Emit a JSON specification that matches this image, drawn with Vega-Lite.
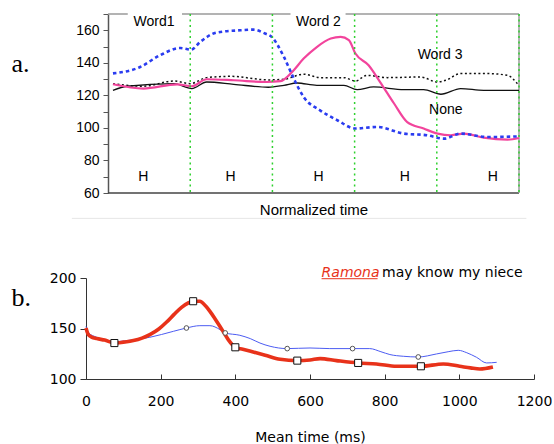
{
  "$schema": "https://vega.github.io/schema/vega-lite/v6.json",
  "padding": {"left": 11, "top": 12, "right": 0, "bottom": 2},
  "background": "white",
  "config": {"view": {"stroke": null}, "font": "Liberation Sans", "axis": {"grid": false, "labelOverlap": false}},
  "spacing": 46,
  "datasets": {
    "a": [
      {"s": "w1", "t": 0.06, "v": 133.5}, {"s": "w1", "t": 0.39, "v": 137.4}, {"s": "w1", "t": 0.63, "v": 144.6}, {"s": "w1", "t": 0.88, "v": 149.1}, {"s": "w1", "t": 1.01, "v": 148.1}, {"s": "w1", "t": 1.12, "v": 152.8}, {"s": "w1", "t": 1.32, "v": 158.6}, {"s": "w1", "t": 1.61, "v": 160}, {"s": "w1", "t": 1.77, "v": 160.4}, {"s": "w1", "t": 1.91, "v": 158}, {"s": "w1", "t": 1.99, "v": 156}, {"s": "w1", "t": 2.14, "v": 143.6}, {"s": "w1", "t": 2.26, "v": 130.3}, {"s": "w1", "t": 2.38, "v": 119}, {"s": "w1", "t": 2.58, "v": 110.8}, {"s": "w1", "t": 2.79, "v": 104.7}, {"s": "w1", "t": 3.01, "v": 99.6}, {"s": "w1", "t": 3.27, "v": 100.6}, {"s": "w1", "t": 3.6, "v": 96.5}, {"s": "w1", "t": 3.88, "v": 95.5}, {"s": "w1", "t": 4.09, "v": 93.4}, {"s": "w1", "t": 4.29, "v": 96.5}, {"s": "w1", "t": 4.61, "v": 94.4}, {"s": "w1", "t": 5.0, "v": 94.8},
      {"s": "w2", "t": 0.06, "v": 126.8}, {"s": "w2", "t": 0.43, "v": 124.2}, {"s": "w2", "t": 0.84, "v": 126.8}, {"s": "w2", "t": 1.02, "v": 125.6}, {"s": "w2", "t": 1.2, "v": 129.9}, {"s": "w2", "t": 1.53, "v": 129.3}, {"s": "w2", "t": 1.93, "v": 128.2}, {"s": "w2", "t": 2.1, "v": 128.7}, {"s": "w2", "t": 2.24, "v": 134.4}, {"s": "w2", "t": 2.38, "v": 142.6}, {"s": "w2", "t": 2.54, "v": 149.7}, {"s": "w2", "t": 2.71, "v": 154.9}, {"s": "w2", "t": 2.83, "v": 155.9}, {"s": "w2", "t": 2.93, "v": 153.9}, {"s": "w2", "t": 3.01, "v": 145.7}, {"s": "w2", "t": 3.17, "v": 138.5}, {"s": "w2", "t": 3.31, "v": 128.2}, {"s": "w2", "t": 3.48, "v": 115}, {"s": "w2", "t": 3.64, "v": 103.6}, {"s": "w2", "t": 3.84, "v": 99.6}, {"s": "w2", "t": 4.01, "v": 96.5}, {"s": "w2", "t": 4.17, "v": 95.5}, {"s": "w2", "t": 4.33, "v": 96.5}, {"s": "w2", "t": 4.57, "v": 94}, {"s": "w2", "t": 4.86, "v": 92.8}, {"s": "w2", "t": 5.0, "v": 93.8},
      {"s": "w3", "t": 0.06, "v": 127.2}, {"s": "w3", "t": 0.43, "v": 125.6}, {"s": "w3", "t": 0.8, "v": 128.8}, {"s": "w3", "t": 1.0, "v": 127.2}, {"s": "w3", "t": 1.2, "v": 130.9}, {"s": "w3", "t": 1.49, "v": 131.7}, {"s": "w3", "t": 1.95, "v": 129.5}, {"s": "w3", "t": 2.14, "v": 129.9}, {"s": "w3", "t": 2.38, "v": 133}, {"s": "w3", "t": 2.58, "v": 130.9}, {"s": "w3", "t": 2.87, "v": 130.9}, {"s": "w3", "t": 3.01, "v": 128.8}, {"s": "w3", "t": 3.15, "v": 132.3}, {"s": "w3", "t": 3.4, "v": 130.9}, {"s": "w3", "t": 3.8, "v": 131.3}, {"s": "w3", "t": 4.01, "v": 128.2}, {"s": "w3", "t": 4.11, "v": 129.3}, {"s": "w3", "t": 4.29, "v": 133.4}, {"s": "w3", "t": 4.61, "v": 133.4}, {"s": "w3", "t": 4.86, "v": 132.3}, {"s": "w3", "t": 4.98, "v": 127.2},
      {"s": "none", "t": 0.06, "v": 123.1}, {"s": "none", "t": 0.23, "v": 125.6}, {"s": "none", "t": 0.8, "v": 127.2}, {"s": "none", "t": 1.02, "v": 124.2}, {"s": "none", "t": 1.2, "v": 128.2}, {"s": "none", "t": 1.53, "v": 126.8}, {"s": "none", "t": 1.95, "v": 125}, {"s": "none", "t": 2.14, "v": 126.2}, {"s": "none", "t": 2.3, "v": 127.6}, {"s": "none", "t": 2.54, "v": 126.2}, {"s": "none", "t": 2.87, "v": 126.2}, {"s": "none", "t": 3.03, "v": 123.5}, {"s": "none", "t": 3.23, "v": 125.2}, {"s": "none", "t": 3.6, "v": 123.5}, {"s": "none", "t": 3.84, "v": 123.5}, {"s": "none", "t": 4.05, "v": 120.7}, {"s": "none", "t": 4.29, "v": 124.2}, {"s": "none", "t": 4.57, "v": 123.1}, {"s": "none", "t": 5.0, "v": 123.1}
    ],
    "alabels": [
      {"t": 0.43, "v": 69.6, "label": "H"}, {"t": 1.49, "v": 69.6, "label": "H"}, {"t": 2.56, "v": 69.6, "label": "H"}, {"t": 3.61, "v": 69.6, "label": "H"}, {"t": 4.68, "v": 69.6, "label": "H"},
      {"t": 0.56, "v": 164.9, "label": "Word1"}, {"t": 2.56, "v": 165.3, "label": "Word 2"}, {"t": 4.04, "v": 144.6, "label": "Word 3"}, {"t": 4.11, "v": 110.8, "label": "None"}
    ],
    "gaps": [
      {"t": 0.24, "t2": 0.9, "v": 166, "v2": 171},
      {"t": 2.22, "t2": 2.89, "v": 166, "v2": 171}
    ],
    "topborder": [{"t": 0, "t2": 5, "v": 170}],
    "bottomborder": [{"t": 0, "t2": 5, "v": 60}],
    "vborder": [{"t": 5, "v": 60, "v2": 170}],
    "frame": [{"t": -0.44, "t2": 5.09, "v": 44.4}],
    "b": [
      {"s": "red", "ms": 0, "v": 150.5}, {"s": "red", "ms": 6, "v": 144}, {"s": "red", "ms": 15, "v": 141.5}, {"s": "red", "ms": 29, "v": 140}, {"s": "red", "ms": 50, "v": 138.5}, {"s": "red", "ms": 76, "v": 135.6}, {"s": "red", "ms": 100, "v": 136.5}, {"s": "red", "ms": 127, "v": 138}, {"s": "red", "ms": 150, "v": 140.5}, {"s": "red", "ms": 171, "v": 144}, {"s": "red", "ms": 195, "v": 149.5}, {"s": "red", "ms": 216, "v": 156.4}, {"s": "red", "ms": 236, "v": 164}, {"s": "red", "ms": 256, "v": 171}, {"s": "red", "ms": 275, "v": 175.5}, {"s": "red", "ms": 287, "v": 177}, {"s": "red", "ms": 305, "v": 177}, {"s": "red", "ms": 320, "v": 172.5}, {"s": "red", "ms": 332, "v": 167}, {"s": "red", "ms": 345, "v": 160}, {"s": "red", "ms": 359, "v": 152}, {"s": "red", "ms": 370, "v": 145.5}, {"s": "red", "ms": 381, "v": 139}, {"s": "red", "ms": 392, "v": 134}, {"s": "red", "ms": 400, "v": 131.4}, {"s": "red", "ms": 420, "v": 129.5}, {"s": "red", "ms": 448, "v": 126.7}, {"s": "red", "ms": 480, "v": 123.5}, {"s": "red", "ms": 520, "v": 119.5}, {"s": "red", "ms": 566, "v": 118.2}, {"s": "red", "ms": 600, "v": 118.8}, {"s": "red", "ms": 627, "v": 120.2}, {"s": "red", "ms": 671, "v": 118.2}, {"s": "red", "ms": 729, "v": 115.9}, {"s": "red", "ms": 778, "v": 114.9}, {"s": "red", "ms": 832, "v": 112.6}, {"s": "red", "ms": 897, "v": 112.6}, {"s": "red", "ms": 957, "v": 114.9}, {"s": "red", "ms": 1001, "v": 112.6}, {"s": "red", "ms": 1030, "v": 111}, {"s": "red", "ms": 1055, "v": 109.9}, {"s": "red", "ms": 1090, "v": 111.9},
      {"s": "blue", "ms": 0, "v": 152}, {"s": "blue", "ms": 6, "v": 146}, {"s": "blue", "ms": 29, "v": 141.3}, {"s": "blue", "ms": 76, "v": 137}, {"s": "blue", "ms": 120, "v": 138.5}, {"s": "blue", "ms": 171, "v": 141.3}, {"s": "blue", "ms": 234, "v": 147.2}, {"s": "blue", "ms": 269, "v": 150.5}, {"s": "blue", "ms": 305, "v": 152.8}, {"s": "blue", "ms": 332, "v": 152.8}, {"s": "blue", "ms": 359, "v": 148.9}, {"s": "blue", "ms": 373, "v": 145.6}, {"s": "blue", "ms": 412, "v": 143.3}, {"s": "blue", "ms": 440, "v": 140}, {"s": "blue", "ms": 466, "v": 135.6}, {"s": "blue", "ms": 493, "v": 132.4}, {"s": "blue", "ms": 539, "v": 130.1}, {"s": "blue", "ms": 600, "v": 130.7}, {"s": "blue", "ms": 653, "v": 130.1}, {"s": "blue", "ms": 714, "v": 130.1}, {"s": "blue", "ms": 760, "v": 130.1}, {"s": "blue", "ms": 790, "v": 127}, {"s": "blue", "ms": 814, "v": 124.2}, {"s": "blue", "ms": 850, "v": 122.5}, {"s": "blue", "ms": 890, "v": 121.8}, {"s": "blue", "ms": 939, "v": 124.8}, {"s": "blue", "ms": 970, "v": 127}, {"s": "blue", "ms": 997, "v": 128.4}, {"s": "blue", "ms": 1020, "v": 126}, {"s": "blue", "ms": 1046, "v": 121.5}, {"s": "blue", "ms": 1073, "v": 115.9}, {"s": "blue", "ms": 1100, "v": 116.5}
    ],
    "squares": [{"ms": 76, "v": 135.6}, {"ms": 287, "v": 177}, {"ms": 400, "v": 131.4}, {"ms": 566, "v": 118.2}, {"ms": 729, "v": 115.9}, {"ms": 897, "v": 112.6}],
    "circles": [{"ms": 269, "v": 150.5}, {"ms": 373, "v": 145.6}, {"ms": 539, "v": 130.1}, {"ms": 714, "v": 130.1}, {"ms": 890, "v": 121.8}],
    "name": [{"ms": 631, "v": 201, "label": "Ramona"}],
    "rest": [{"ms": 793, "v": 201, "label": "may know my niece"}],
    "underline": [{"ms": 631, "ms2": 781, "v": 199.3}]
  },
  "vconcat": [
    {
      "width": 433,
      "height": 179,
      "resolve": {"axis": {"y": "independent"}},
      "layer": [
        {
          "data": {"name": "topborder"},
          "mark": {"type": "rule", "strokeWidth": 1.5, "color": "#9a9a9a"},
          "encoding": {
            "x": {"field": "t", "type": "quantitative", "scale": {"domain": [-0.2681, 5], "nice": false, "zero": false},
              "axis": {"title": "Normalized time", "labels": false, "ticks": false, "domain": false, "titleFont": "Liberation Sans", "titleFontSize": 15, "titleFontWeight": "normal", "titleColor": "#000", "titlePadding": 9, "titleX": 227.5}},
            "x2": {"field": "t2"},
            "y": {"field": "v", "type": "quantitative", "scale": {"domain": [60, 170], "nice": false, "zero": false},
              "axis": {"orient": "left", "offset": -22, "values": [60, 80, 100, 120, 140, 160], "labelOverlap": false, "tickSize": 5, "tickColor": "#555", "domainColor": "#555", "domainWidth": 1.5, "labelFont": "Liberation Sans", "labelFontSize": 14, "labelColor": "#000", "labelPadding": 4,
                "title": "a.", "titleAngle": 0, "titleFont": "Liberation Serif", "titleFontSize": 26, "titleFontWeight": "normal", "titleColor": "#000", "titleAlign": "left", "titleBaseline": "alphabetic", "titleX": -97, "titleY": 57}}
          }
        },
        {
          "data": {"name": "bottomborder"},
          "mark": {"type": "rule", "strokeWidth": 1.5, "color": "#444"},
          "encoding": {"x": {"field": "t", "type": "quantitative"}, "x2": {"field": "t2"},
            "y": {"field": "v", "type": "quantitative", "axis": {"orient": "left", "offset": -22, "values": [70, 90, 110, 130, 150, 170], "labels": false, "domain": false, "tickSize": 5, "tickColor": "#555", "title": null}}}
        },
        {
          "data": {"name": "vborder"},
          "mark": {"type": "rule", "strokeWidth": 1.5, "color": "#9a9a9a"},
          "encoding": {"x": {"field": "t", "type": "quantitative"}, "y": {"field": "v", "type": "quantitative", "axis": null}, "y2": {"field": "v2"}}
        },
        {
          "data": {"name": "a"},
          "transform": [{"filter": "datum.s == 'none'"}],
          "mark": {"type": "line", "color": "#111", "strokeWidth": 1.3, "interpolate": "monotone"},
          "encoding": {"x": {"field": "t", "type": "quantitative"}, "y": {"field": "v", "type": "quantitative", "axis": null}}
        },
        {
          "data": {"name": "a"},
          "transform": [{"filter": "datum.s == 'w3'"}],
          "mark": {"type": "line", "color": "#111", "strokeWidth": 1.5, "strokeDash": [2, 2.5], "interpolate": "monotone"},
          "encoding": {"x": {"field": "t", "type": "quantitative"}, "y": {"field": "v", "type": "quantitative", "axis": null}}
        },
        {
          "data": {"name": "a"},
          "transform": [{"filter": "datum.s == 'w2'"}],
          "mark": {"type": "line", "color": "#f2449c", "strokeWidth": 2.2, "interpolate": "monotone"},
          "encoding": {"x": {"field": "t", "type": "quantitative"}, "y": {"field": "v", "type": "quantitative", "axis": null}}
        },
        {
          "data": {"name": "a"},
          "transform": [{"filter": "datum.s == 'w1'"}],
          "mark": {"type": "line", "color": "#2a3cf0", "strokeWidth": 2.6, "strokeDash": [3.5, 3], "interpolate": "monotone"},
          "encoding": {"x": {"field": "t", "type": "quantitative"}, "y": {"field": "v", "type": "quantitative", "axis": null}}
        },
        {
          "data": {"values": [{"t": 1}, {"t": 2}, {"t": 3}, {"t": 4}, {"t": 5}]},
          "mark": {"type": "rule", "color": "#2fd12f", "strokeWidth": 1.5, "strokeDash": [2, 3.5]},
          "encoding": {"x": {"field": "t", "type": "quantitative"}}
        },
        {
          "data": {"name": "gaps"},
          "mark": {"type": "rect", "color": "white"},
          "encoding": {"x": {"field": "t", "type": "quantitative"}, "x2": {"field": "t2"}, "y": {"field": "v", "type": "quantitative", "axis": null}, "y2": {"field": "v2"}}
        },
        {
          "data": {"name": "frame"},
          "mark": {"type": "rule", "color": "#e6e6e6", "strokeWidth": 1},
          "encoding": {"x": {"field": "t", "type": "quantitative"}, "x2": {"field": "t2"}, "y": {"field": "v", "type": "quantitative", "axis": null}}
        },
        {
          "data": {"name": "alabels"},
          "mark": {"type": "text", "font": "Liberation Sans", "fontSize": 14, "color": "#000", "baseline": "middle", "align": "center"},
          "encoding": {"x": {"field": "t", "type": "quantitative"}, "y": {"field": "v", "type": "quantitative", "axis": null}, "text": {"field": "label"}}
        }
      ]
    },
    {
      "width": 448,
      "height": 101,
      "layer": [
        {
          "data": {"name": "b"},
          "transform": [{"filter": "datum.s == 'blue'"}],
          "mark": {"type": "line", "color": "#4c5cf2", "strokeWidth": 1, "interpolate": "monotone"},
          "encoding": {
            "x": {"field": "ms", "type": "quantitative", "scale": {"domain": [0, 1200], "nice": false},
              "axis": {"values": [0, 100, 200, 300, 400, 500, 600, 700, 800, 900, 1000, 1100, 1200], "format": "d", "labelOverlap": false, "labelExpr": "datum.value % 200 == 0 ? datum.label : ''", "tickSize": -5, "tickColor": "#333", "domainColor": "#333", "labelFont": "DejaVu Sans", "labelFontSize": 14, "labelColor": "#000", "labelPadding": 20.5, "labelFlush": false,
                "title": "Mean time (ms)", "titleFont": "DejaVu Sans", "titleFontSize": 14, "titleFontWeight": "normal", "titleColor": "#000", "titlePadding": 22}},
            "y": {"field": "v", "type": "quantitative", "scale": {"domain": [100, 200], "nice": false, "zero": false},
              "axis": {"values": [100, 125, 150, 175, 200], "labelOverlap": false, "labelExpr": "datum.value % 50 == 0 ? datum.label : ''", "tickSize": 6, "tickColor": "#333", "domainColor": "#333", "labelFont": "DejaVu Sans", "labelFontSize": 14, "labelColor": "#000", "labelPadding": 4,
                "title": "b.", "titleAngle": 0, "titleFont": "Liberation Serif", "titleFontSize": 26, "titleFontWeight": "normal", "titleColor": "#000", "titleAlign": "left", "titleBaseline": "alphabetic", "titleX": -75, "titleY": 27}}
          }
        },
        {
          "data": {"name": "b"},
          "transform": [{"filter": "datum.s == 'red'"}],
          "mark": {"type": "line", "color": "#e8321a", "strokeWidth": 3.6, "interpolate": "monotone"},
          "encoding": {"x": {"field": "ms", "type": "quantitative"}, "y": {"field": "v", "type": "quantitative"}}
        },
        {
          "data": {"name": "circles"},
          "mark": {"type": "point", "shape": "circle", "size": 22, "filled": true, "fill": "white", "stroke": "#555", "strokeWidth": 1, "opacity": 1},
          "encoding": {"x": {"field": "ms", "type": "quantitative"}, "y": {"field": "v", "type": "quantitative"}}
        },
        {
          "data": {"name": "squares"},
          "mark": {"type": "point", "shape": "square", "size": 50, "filled": true, "fill": "white", "stroke": "#111", "strokeWidth": 1, "opacity": 1},
          "encoding": {"x": {"field": "ms", "type": "quantitative"}, "y": {"field": "v", "type": "quantitative"}}
        },
        {
          "data": {"name": "name"},
          "mark": {"type": "text", "font": "DejaVu Sans", "fontSize": 14, "fontStyle": "italic", "align": "left", "baseline": "alphabetic", "color": "#e8321a"},
          "encoding": {"x": {"field": "ms", "type": "quantitative"}, "y": {"field": "v", "type": "quantitative"}, "text": {"field": "label"}}
        },
        {
          "data": {"name": "rest"},
          "mark": {"type": "text", "font": "DejaVu Sans", "fontSize": 14, "align": "left", "baseline": "alphabetic", "color": "#000"},
          "encoding": {"x": {"field": "ms", "type": "quantitative"}, "y": {"field": "v", "type": "quantitative"}, "text": {"field": "label"}}
        },
        {
          "data": {"name": "underline"},
          "mark": {"type": "rule", "color": "#e8321a", "strokeWidth": 1},
          "encoding": {"x": {"field": "ms", "type": "quantitative"}, "x2": {"field": "ms2"}, "y": {"field": "v", "type": "quantitative"}}
        }
      ]
    }
  ]
}
